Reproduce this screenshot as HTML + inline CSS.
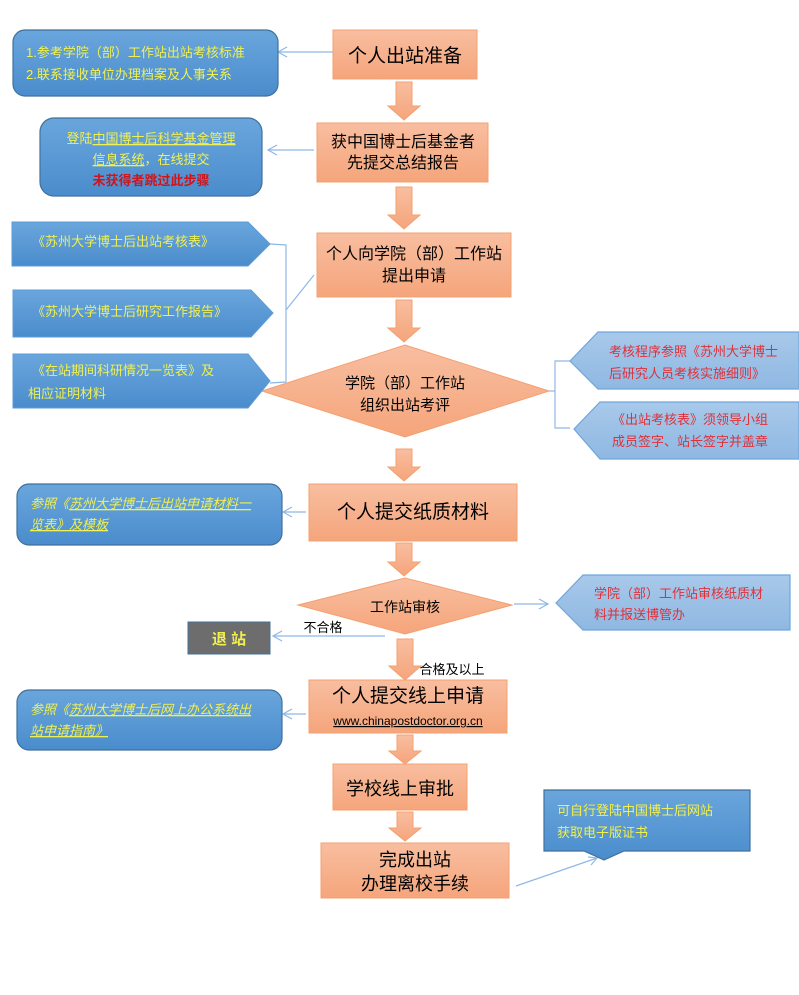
<!DOCTYPE html>
<html><head><meta charset="utf-8"><style>
html,body{margin:0;padding:0;background:#fff;}
svg{display:block;font-family:"Liberation Sans","Noto Sans CJK SC",sans-serif;}
</style></head><body>
<svg width="799" height="995" viewBox="0 0 799 995" xmlns="http://www.w3.org/2000/svg">
<defs>
<linearGradient id="og" x1="0" y1="0" x2="0" y2="1"><stop offset="0" stop-color="#f8bea0"/><stop offset="1" stop-color="#f5a57b"/></linearGradient>
<linearGradient id="bg" x1="0" y1="0" x2="0" y2="1"><stop offset="0" stop-color="#6aa6dd"/><stop offset="1" stop-color="#4a8ccc"/></linearGradient>
<linearGradient id="lb" x1="0" y1="0" x2="0" y2="1"><stop offset="0" stop-color="#a8c9ea"/><stop offset="1" stop-color="#8fb8e2"/></linearGradient>
</defs>
<g stroke="#8fb8e6" stroke-width="1.2" fill="none">
<line x1="278" y1="52" x2="333" y2="52"/><polyline points="287,47 278,52 287,57"/>
<line x1="268" y1="150" x2="314" y2="150"/><polyline points="277,145 268,150 277,155"/>
<polyline points="270,244 286,245 286,382 270,383"/><line x1="286" y1="310" x2="314" y2="275"/>
<polyline points="570,361 555,361 555,428 570,428"/><line x1="549" y1="391" x2="555" y2="391"/>
<line x1="283" y1="512" x2="306" y2="512"/><polyline points="292,507 283,512 292,517"/>
<line x1="514" y1="604" x2="548" y2="604"/><polyline points="539,599 548,604 539,609"/>
<line x1="273" y1="636" x2="385" y2="636"/><polyline points="282,631 273,636 282,641"/>
<line x1="283" y1="714" x2="306" y2="714"/><polyline points="292,709 283,714 292,719"/>
<line x1="516" y1="886" x2="597" y2="858"/><polyline points="588,857 597,858 591,865"/>
</g>
<g fill="url(#og)" stroke="#f4a070" stroke-width="1">
<rect x="333" y="30" width="144" height="49"/>
<rect x="317" y="123" width="171" height="59"/>
<rect x="317" y="233" width="194" height="64"/>
<polygon points="262,391 405,345 549,391 405,437"/>
<rect x="309" y="484" width="208" height="57"/>
<polygon points="298,605 405,578 512,605 405,634"/>
<rect x="309" y="680" width="198" height="53"/>
<rect x="333" y="764" width="134" height="46"/>
<rect x="321" y="843" width="188" height="55"/>
<path d="M396 82h16v24h8l-16 14-16-14h8z"/>
<path d="M396 187h16v28h8l-16 14-16-14h8z"/>
<path d="M396 300h16v28h8l-16 14-16-14h8z"/>
<path d="M396 449h16v18h8l-16 14-16-14h8z"/>
<path d="M396 543h16v19h8l-16 14-16-14h8z"/>
<path d="M397 639h16v27h8l-16 14-16-14h8z"/>
<path d="M397 735h16v16h8l-16 13-16-13h8z"/>
<path d="M397 812h16v16h8l-16 13-16-13h8z"/>
</g>
<g stroke="#41719c" stroke-width="1.2" fill="url(#bg)">
<rect x="13" y="30" width="265" height="66" rx="12"/>
<rect x="40" y="118" width="222" height="78" rx="14"/>
<rect x="17" y="484" width="265" height="61" rx="12"/>
<rect x="17" y="690" width="265" height="60" rx="12"/>
<path d="M544 790h206v61h-126l-20 9-20-9h-40z"/>
</g>
<g fill="url(#bg)" stroke="#5b9bd5" stroke-width="1">
<polygon points="12,222 248,222 270,244 248,266 12,266"/>
<polygon points="13,290 251,290 273,313 251,337 13,337"/>
<polygon points="13,354 248,354 270,381 248,408 13,408"/>
</g>
<g fill="url(#lb)" stroke="#6ea6dc" stroke-width="1.2">
<polygon points="570,361 598,332 799,332 799,389 598,389"/>
<polygon points="574,429 600,402 799,402 799,459 600,459"/>
<polygon points="556,603 583,575 790,575 790,630 583,630"/>
</g>
<rect x="188" y="622" width="82" height="32" fill="#6d6d6d" stroke="#41719c"/>
<g fill="#000" text-anchor="middle">
<text x="405" y="62" font-size="19">个人出站准备</text>
<text x="403" y="147" font-size="16">获中国博士后基金者</text>
<text x="403" y="168" font-size="16">先提交总结报告</text>
<text x="414" y="259" font-size="16">个人向学院（部）工作站</text>
<text x="414" y="281" font-size="16">提出申请</text>
<text x="405" y="388" font-size="15">学院（部）工作站</text>
<text x="405" y="410" font-size="15">组织出站考评</text>
<text x="413" y="518" font-size="19">个人提交纸质材料</text>
<text x="405" y="612" font-size="14">工作站审核</text>
<text x="408" y="702" font-size="19">个人提交线上申请</text>
<text x="408" y="725" font-size="12" text-decoration="underline">www.chinapostdoctor.org.cn</text>
<text x="400" y="795" font-size="18">学校线上审批</text>
<text x="415" y="866" font-size="18">完成出站</text>
<text x="415" y="890" font-size="18">办理离校手续</text>
<text x="323" y="632" font-size="13">不合格</text>
<text x="452" y="674" font-size="13">合格及以上</text>
</g>
<g fill="#f0f050" font-size="13">
<text x="26" y="57">1.参考学院（部）工作站出站考核标准</text>
<text x="26" y="79">2.联系接收单位办理档案及人事关系</text>
<text x="151" y="143" text-anchor="middle">登陆<tspan text-decoration="underline">中国博士后科学基金管理</tspan></text>
<text x="151" y="164" text-anchor="middle"><tspan text-decoration="underline">信息系统</tspan>，在线提交</text>
<text x="151" y="185" text-anchor="middle" fill="#d0141c" font-weight="bold">未获得者跳过此步骤</text>
<text x="32" y="246">《苏州大学博士后出站考核表》</text>
<text x="32" y="316">《苏州大学博士后研究工作报告》</text>
<text x="32" y="375">《在站期间科研情况一览表》及</text>
<text x="28" y="398">相应证明材料</text>
<text x="30" y="508" font-style="italic">参照《<tspan text-decoration="underline">苏州大学博士后出站申请材料一</tspan></text>
<text x="30" y="529" font-style="italic" text-decoration="underline">览表》及模板</text>
<text x="30" y="714" font-style="italic">参照《<tspan text-decoration="underline">苏州大学博士后网上办公系统出</tspan></text>
<text x="30" y="735" font-style="italic" text-decoration="underline">站申请指南》</text>
<text x="229" y="644" font-size="15" font-weight="bold" text-anchor="middle">退 站</text>
<text x="557" y="815">可自行登陆中国博士后网站</text>
<text x="557" y="837">获取电子版证书</text>
</g>
<g fill="#e0303a" font-size="13">
<text x="609" y="356">考核程序参照《苏州大学博士</text>
<text x="609" y="378">后研究人员考核实施细则》</text>
<text x="612" y="424">《出站考核表》须领导小组</text>
<text x="612" y="446">成员签字、站长签字并盖章</text>
<text x="594" y="598">学院（部）工作站审核纸质材</text>
<text x="594" y="619">料并报送博管办</text>
</g>
</svg>
</body></html>
